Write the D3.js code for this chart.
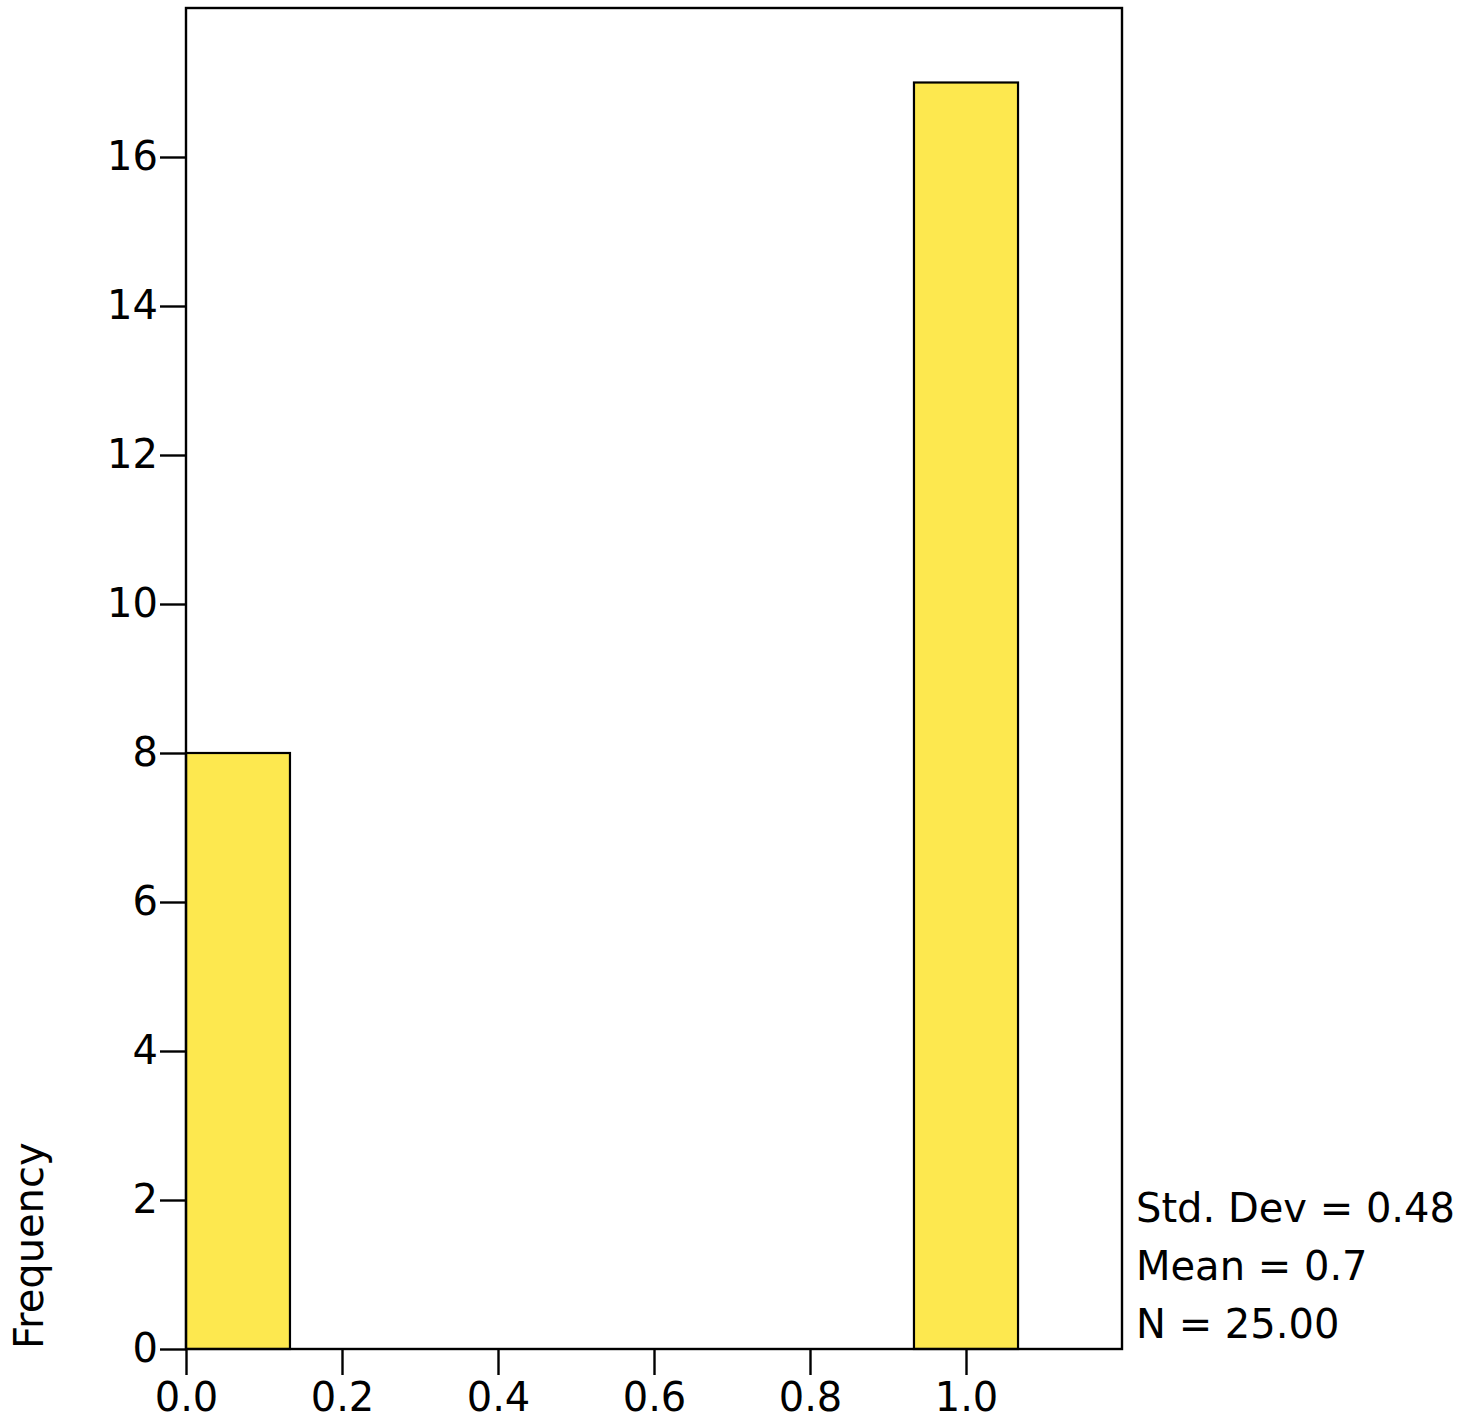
<!DOCTYPE html>
<html>
<head>
<meta charset="utf-8">
<script src="https://cdn.jsdelivr.net/npm/d3@7"></script>
<style>
  html, body { margin: 0; padding: 0; background: #fff; }
  svg { display: block; }
  text { font-family: "DejaVu Sans", sans-serif; fill: #000; }
</style>
</head>
<body>
<script>
// Histogram bins (lower edge, upper edge) and their counts
const binStarts = [0.0, 0.9333];
const binEnds = [0.1333, 1.0667];
const counts = [8, 17];

const xTicks = [0.0, 0.2, 0.4, 0.6, 0.8, 1.0];
const yTicks = [0, 2, 4, 6, 8, 10, 12, 14, 16];

const statLines = ["Std. Dev = 0.48", "Mean = 0.7", "N = 25.00"];

const W = 1472, H = 1422;
const plotL = 186, plotR = 1122, plotT = 8, plotB = 1349;
const fontSize = 40;

const svg = d3.select("body").append("svg")
  .attr("width", W).attr("height", H);

const x = d3.scaleLinear().domain([0, 1.2]).range([plotL, plotR]);
const y = d3.scaleLinear().domain([0, 18]).range([plotB, plotT]);

const bins = counts.map((c, i) => ({ x0: binStarts[i], x1: binEnds[i], n: c }));

// bars
svg.append("g").selectAll("rect").data(bins).join("rect")
  .attr("x", d => x(d.x0))
  .attr("y", d => y(d.n))
  .attr("width", d => x(d.x1) - x(d.x0))
  .attr("height", d => y(0) - y(d.n))
  .attr("fill", "#fde84f")
  .attr("stroke", "#000")
  .attr("stroke-width", 2.2);

// plot frame
svg.append("rect")
  .attr("x", plotL).attr("y", plotT)
  .attr("width", plotR - plotL).attr("height", plotB - plotT)
  .attr("fill", "none").attr("stroke", "#000").attr("stroke-width", 2.4);

// y axis
const yAxis = svg.append("g")
  .attr("transform", `translate(${plotL},0)`)
  .call(d3.axisLeft(y).tickValues(yTicks).tickFormat(d3.format("d"))
    .tickSize(26).tickPadding(2));
yAxis.select(".domain").remove();
yAxis.selectAll(".tick line").attr("stroke", "#000").attr("stroke-width", 2.4);
yAxis.selectAll(".tick text")
  .attr("font-size", fontSize).attr("font-family", "DejaVu Sans").attr("fill", "#000");

// x axis
const xAxis = svg.append("g")
  .attr("transform", `translate(0,${plotB})`)
  .call(d3.axisBottom(x).tickValues(xTicks).tickFormat(d3.format(".1f"))
    .tickSize(26).tickPadding(8));
xAxis.select(".domain").remove();
xAxis.selectAll(".tick line").attr("stroke", "#000").attr("stroke-width", 2.4);
xAxis.selectAll(".tick text")
  .attr("font-size", fontSize).attr("font-family", "DejaVu Sans").attr("fill", "#000");

// y axis title
svg.append("text")
  .attr("transform", "translate(43,1349) rotate(-90)")
  .attr("text-anchor", "start")
  .attr("font-size", fontSize)
  .text("Frequency");

// summary statistics
svg.append("g").selectAll("text").data(statLines).join("text")
  .attr("x", 1136)
  .attr("y", (d, i) => 1222 + i * 58)
  .attr("font-size", fontSize)
  .text(d => d);
</script>
</body>
</html>
